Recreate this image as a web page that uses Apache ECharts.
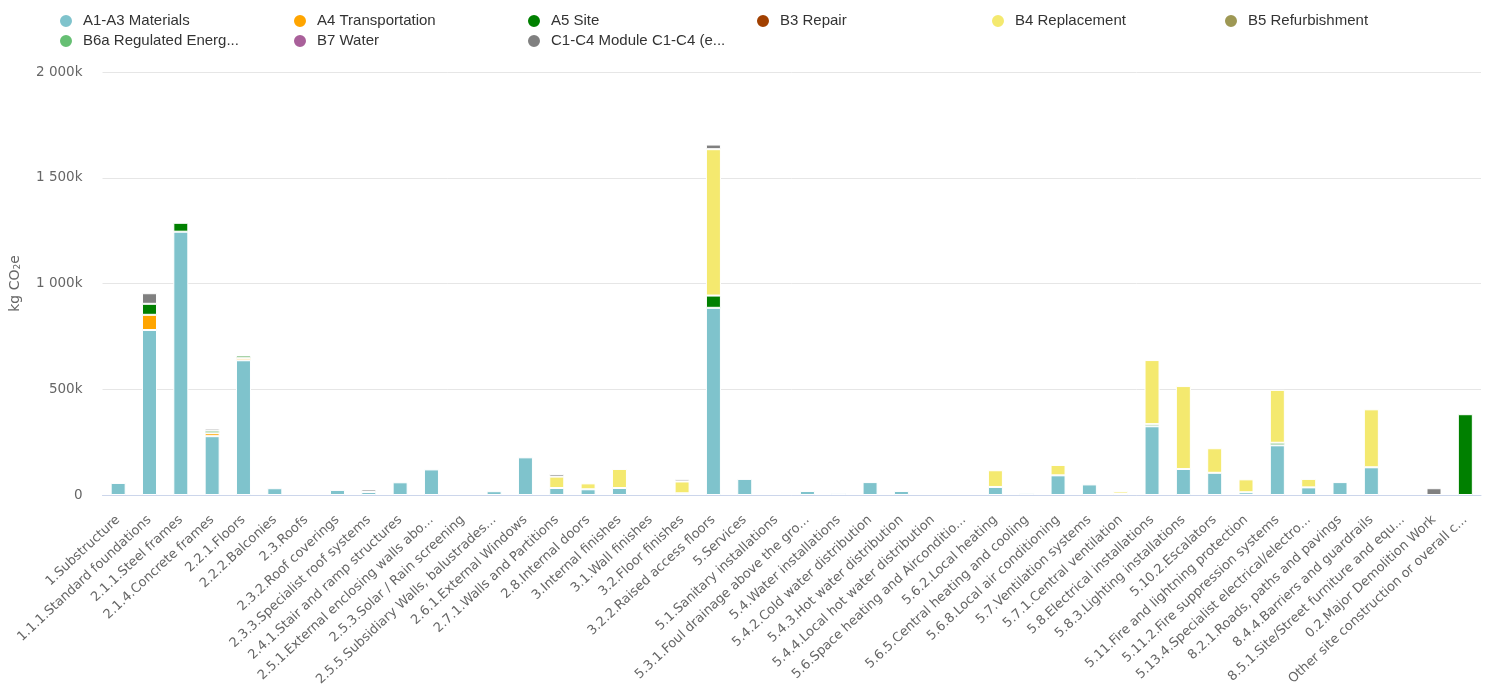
<!DOCTYPE html>
<html>
<head>
<meta charset="utf-8">
<script src="https://cdn.jsdelivr.net/npm/echarts@6/dist/echarts.min.js"></script>
<style>
  html, body { margin: 0; padding: 0; background: #fff; }
  #chart { width: 1488px; height: 698px; }
</style>
</head>
<body>
<div id="chart"></div>
<script>
// Building elements (x axis categories)
const categories = [
  '1.Substructure', '1.1.1.Standard foundations', '2.1.1.Steel frames', '2.1.4.Concrete frames',
  '2.2.1.Floors', '2.2.2.Balconies', '2.3.Roofs', '2.3.2.Roof coverings',
  '2.3.3.Specialist roof systems', '2.4.1.Stair and ramp structures', '2.5.1.External enclosing walls abo...',
  '2.5.3.Solar / Rain screening', '2.5.5.Subsidiary Walls, balustrades...', '2.6.1.External Windows',
  '2.7.1.Walls and Partitions', '2.8.Internal doors', '3.Internal finishes', '3.1.Wall finishes',
  '3.2.Floor finishes', '3.2.2.Raised access floors', '5.Services', '5.1.Sanitary installations',
  '5.3.1.Foul drainage above the gro...', '5.4.Water installations', '5.4.2.Cold water distribution',
  '5.4.3.Hot water distribution', '5.4.4.Local hot water distribution', '5.6.Space heating and Airconditio...',
  '5.6.2.Local heating', '5.6.5.Central heating and cooling', '5.6.8.Local air conditioning',
  '5.7.Ventilation systems', '5.7.1.Central ventilation', '5.8.Electrical installations',
  '5.8.3.Lighting installations', '5.10.2.Escalators', '5.11.Fire and lightning protection',
  '5.11.2.Fire suppression systems', '5.13.4.Specialist electrical/electro...', '8.2.1.Roads, paths and pavings',
  '8.4.4.Barriers and guardrails', '8.5.1.Site/Street furniture and equ...', '0.2.Major Demolition Work',
  'Other site construction or overall c...'
];

// Life-cycle stage names
const stageNames = [
  'A1-A3 Materials', 'A4 Transportation', 'A5 Site', 'B3 Repair', 'B4 Replacement',
  'B5 Refurbishment', 'B6a Regulated Energ...', 'B7 Water', 'C1-C4 Module C1-C4 (e...'
];
const stageColors = [
  '#7fc3cc', '#ffa500', '#008000', '#a14000', '#f4e96f',
  '#9e9854', '#66bf73', '#a9609a', '#808080'
];

// Emissions per element and stage, kg CO2e
const a1a3 = [57000, 780000, 1245000, 278000, 637000, 32000, 0, 24000, 14000, 60000, 121000,
  0, 18000, 178000, 33000, 27000, 33000, 0, 8000, 885000, 76000, 0, 19000, 9000, 61000, 19000,
  0, 0, 38000, 8000, 93000, 50000, 7000, 325000, 123000, 105000, 13000, 235000, 36000, 61000,
  131000, 0, 0, 0];
const a4 = [0, 72000, 0, 14000, 10000, 0, 0, 0, 0, 0, 0, 0, 0, 0, 0, 0, 0, 0, 0, 0, 0, 0, 0, 0,
  0, 0, 0, 0, 0, 0, 0, 0, 0, 0, 0, 0, 0, 0, 0, 0, 0, 0, 0, 0];
const a5 = [0, 52000, 42000, 12000, 12000, 0, 0, 0, 0, 0, 0, 0, 0, 0, 0, 0, 0, 0, 0, 58000, 0, 0,
  0, 0, 0, 0, 0, 0, 0, 0, 0, 0, 0, 10000, 0, 0, 0, 12000, 0, 0, 0, 0, 0, 382000];
const b3 = new Array(44).fill(0);
const b4 = [0, 0, 0, 0, 0, 0, 0, 0, 0, 0, 0, 0, 0, 0, 54000, 28000, 90000, 0, 56000, 692000, 0, 0,
  0, 0, 0, 0, 0, 0, 79000, 0, 49000, 0, 12000, 303000, 392000, 116000, 61000, 250000, 40000, 0,
  274000, 0, 0, 0];
const b5 = new Array(44).fill(0);
const b6a = new Array(44).fill(0);
const b7 = new Array(44).fill(0);
const c1c4 = [0, 50000, 0, 10000, 0, 0, 0, 0, 12000, 0, 0, 0, 0, 0, 12000, 0, 0, 0, 10000, 22000,
  0, 0, 0, 0, 0, 0, 0, 0, 0, 0, 0, 0, 0, 0, 0, 0, 0, 0, 0, 0, 0, 0, 32000, 0];

const stageValues = [a1a3, a4, a5, b3, b4, b5, b6a, b7, c1c4];

// y axis ticks, kg CO2e
const yMax = 2000000;
const yStep = 500000;

function fmtK(v) {
  const k = Math.round(v / 1000);
  return (k === 0 ? '0' : String(k).replace(/\B(?=(\d{3})+(?!\d))/g, ' ') + 'k');
}

const series = stageNames.map((name, i) => ({
  name: name,
  type: 'bar',
  stack: 'total',
  barWidth: 15,
  itemStyle: { color: stageColors[i], borderColor: '#ffffff', borderWidth: 1 },
  emphasis: { disabled: true },
  data: stageValues[i].map(v => (v === 0 ? '-' : v))
}));

// Legend laid out as a six-column grid: one legend component per entry
const legendCols = 6;
const legendLefts = [53, 287, 521, 750, 985, 1218];
const legends = stageNames.map((name, i) => ({
  left: legendLefts[i % legendCols],
  top: 8 + 20 * Math.floor(i / legendCols),
  icon: 'circle',
  itemWidth: 24,
  itemHeight: 14,
  textStyle: {
    fontFamily: 'Liberation Sans, Arial, sans-serif',
    fontSize: 15,
    color: '#333333'
  },
  data: [name]
}));

const chart = echarts.init(document.getElementById('chart'), null, { renderer: 'canvas' });
chart.setOption({
  animation: false,
  color: stageColors,
  legend: legends,
  grid: { left: 101, right: 7, top: 72, bottom: 203, containLabel: false },
  xAxis: {
    type: 'category',
    data: categories,
    axisLine: { lineStyle: { color: '#ccd6eb', width: 1 } },
    axisTick: { show: false },
    axisLabel: {
      interval: 0,
      rotate: 43,
      margin: 23,
      fontFamily: 'DejaVu Sans, sans-serif',
      fontSize: 13,
      color: '#666666'
    }
  },
  yAxis: {
    type: 'value',
    min: 0,
    max: yMax,
    interval: yStep,
    name: 'kg CO{sub|2}e',
    nameLocation: 'middle',
    nameGap: 80,
    nameRotate: 90,
    nameTextStyle: {
      fontFamily: 'DejaVu Sans, sans-serif',
      fontSize: 14,
      color: '#666666',
      rich: { sub: { fontSize: 9, verticalAlign: 'bottom', padding: [6, 0, 0, 0], color: '#666666' } }
    },
    axisLine: { show: false },
    axisTick: { show: false },
    splitLine: { lineStyle: { color: '#e6e6e6', width: 1 } },
    axisLabel: {
      margin: 20,
      fontFamily: 'DejaVu Sans, sans-serif',
      fontSize: 13.5,
      color: '#666666',
      formatter: fmtK
    }
  },
  series: series
});
</script>
</body>
</html>
